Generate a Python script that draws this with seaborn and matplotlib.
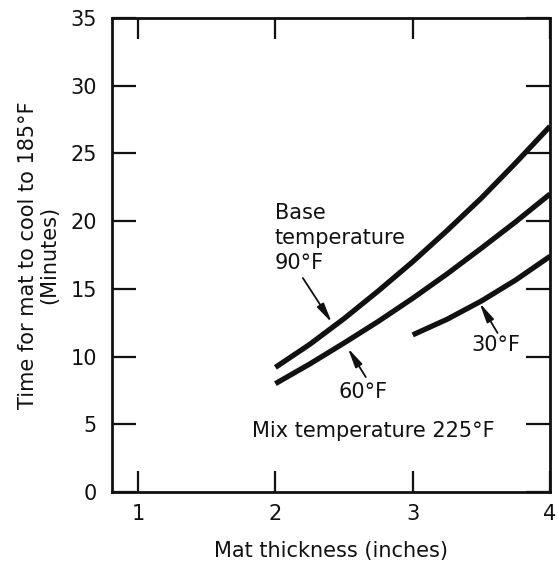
import numpy as np
import pandas as pd
import matplotlib
matplotlib.use("Agg")
import matplotlib.pyplot as plt
import seaborn as sns

# Dados
espessura_90 = [2.0, 2.25, 2.5, 2.75, 3.0, 3.25, 3.5, 3.75, 4.0]
tempo_90 = [9.2, 10.9, 12.8, 14.85, 17.0, 19.3, 21.7, 24.3, 27.0]

espessura_60 = [2.0, 2.25, 2.5, 2.75, 3.0, 3.25, 3.5, 3.75, 4.0]
tempo_60 = [8.0, 9.45, 11.0, 12.6, 14.3, 16.1, 18.0, 19.95, 22.0]

espessura_30 = [3.0, 3.25, 3.5, 3.75, 4.0]
tempo_30 = [11.6, 12.75, 14.1, 15.65, 17.4]

x_ticks = [1, 2, 3, 4]
y_ticks = [0, 5, 10, 15, 20, 25, 30, 35]

sns.set_theme(style="ticks")
plt.rcParams['font.family'] = ['DejaVu Sans']

cor = '#111111'
fs = 15

df = pd.concat([
    pd.DataFrame({'esp': espessura_90, 'tempo': tempo_90, 'base': '90°F'}),
    pd.DataFrame({'esp': espessura_60, 'tempo': tempo_60, 'base': '60°F'}),
    pd.DataFrame({'esp': espessura_30, 'tempo': tempo_30, 'base': '30°F'}),
])

fig = plt.figure(figsize=(5.58, 5.61), dpi=100)
ax = fig.add_axes([0.2007, 0.123, 0.785, 0.845])

for nome, grupo in df.groupby('base', sort=False):
    sns.lineplot(data=grupo, x='esp', y='tempo', ax=ax, color=cor,
                 linewidth=3.8, solid_capstyle='butt', legend=False)

ax.set_xlim(0.81, 4.0)
ax.set_ylim(0, 35)
ax.set_xticks(x_ticks)
ax.set_yticks(y_ticks)
ax.tick_params(axis='both', direction='in', length=15, width=1.6, colors=cor,
               labelsize=fs, labelcolor=cor, top=True, right=True, pad=9)
ax.tick_params(axis='y', length=17, pad=11)
for s in ax.spines.values():
    s.set_linewidth(2.0)
    s.set_color(cor)

ax.set_xlabel('Mat thickness (inches)', fontsize=fs, color=cor, labelpad=12)
ax.set_ylabel('Time for mat to cool to 185°F\n(Minutes)', fontsize=fs,
              color=cor, labelpad=8, linespacing=1.05)

# Anotações
ax.text(1.996, 18.76, 'Base\ntemperature\n90°F', fontsize=fs, color=cor,
        ha='left', va='center', linespacing=1.3)
seta = dict(arrowstyle='-|>,head_length=0.9,head_width=0.18', color=cor,
            lw=1.3, mutation_scale=13, shrinkA=0, shrinkB=0)
ax.annotate('', xy=(2.411, 12.5), xytext=(2.2, 15.8), arrowprops=seta)
ax.annotate('', xy=(2.527, 10.63), xytext=(2.658, 8.49), arrowprops=seta)
ax.annotate('', xy=(3.487, 13.96), xytext=(3.618, 11.74), arrowprops=seta)
ax.text(2.636, 7.39, '60°F', fontsize=fs, color=cor, ha='center', va='center')
ax.text(3.603, 10.85, '30°F', fontsize=fs, color=cor, ha='center', va='center')
ax.text(2.716, 4.5, 'Mix temperature 225°F', fontsize=fs, color=cor,
        ha='center', va='center')

plt.savefig('out.png', dpi=100)
